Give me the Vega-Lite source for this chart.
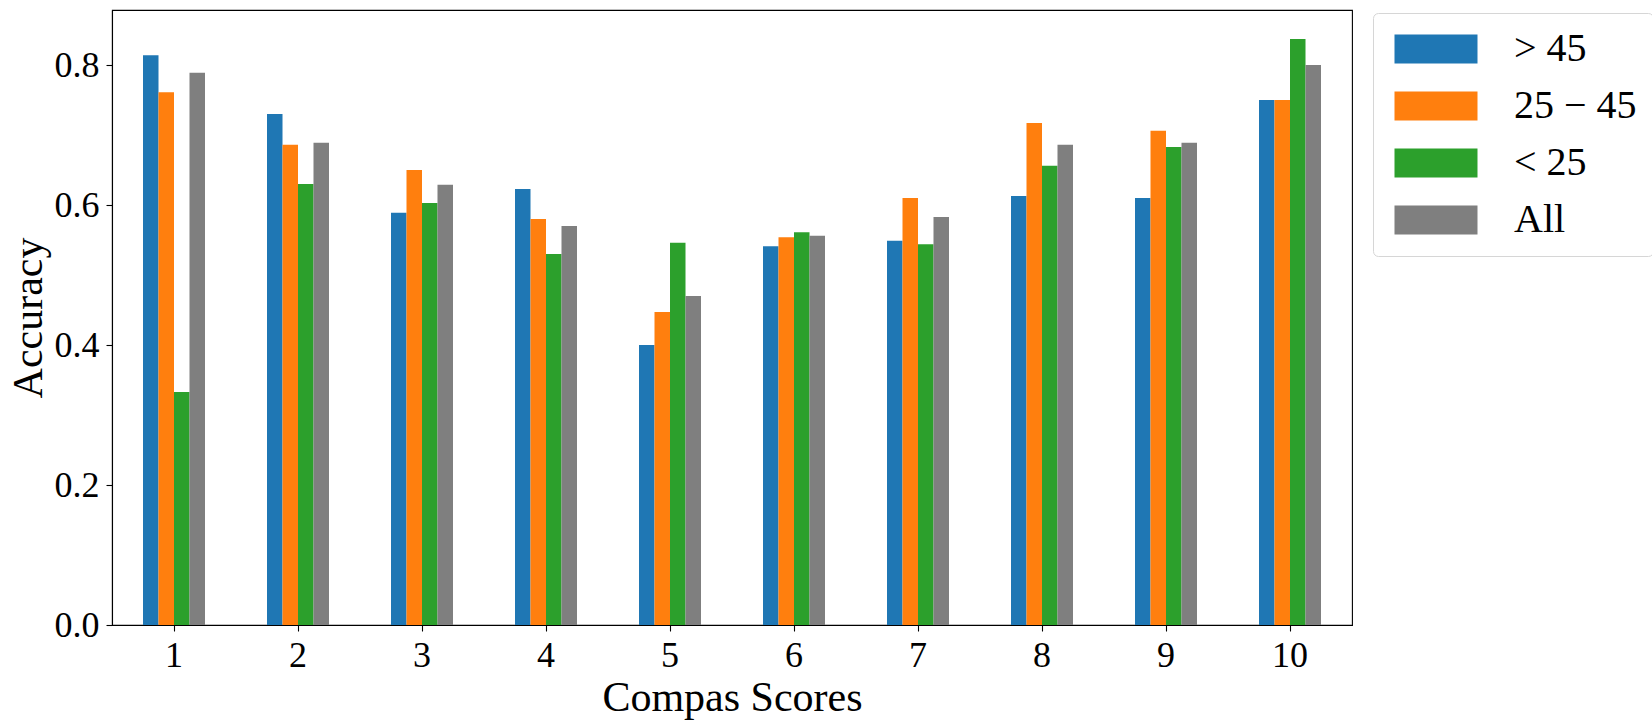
{
  "$schema": "https://vega.github.io/schema/vega-lite/v6.json",
  "width": 1240,
  "height": 615,
  "autosize": "none",
  "padding": {"left": 112, "top": 10, "right": 300, "bottom": 100},
  "background": "white",
  "data": {
    "values": [
      {"score": 1, "group": "> 45", "accuracy": 0.814},
      {"score": 1, "group": "25 − 45", "accuracy": 0.761},
      {"score": 1, "group": "< 25", "accuracy": 0.333},
      {"score": 1, "group": "All", "accuracy": 0.789},
      {"score": 2, "group": "> 45", "accuracy": 0.730},
      {"score": 2, "group": "25 − 45", "accuracy": 0.686},
      {"score": 2, "group": "< 25", "accuracy": 0.630},
      {"score": 2, "group": "All", "accuracy": 0.689},
      {"score": 3, "group": "> 45", "accuracy": 0.589},
      {"score": 3, "group": "25 − 45", "accuracy": 0.650},
      {"score": 3, "group": "< 25", "accuracy": 0.603},
      {"score": 3, "group": "All", "accuracy": 0.629},
      {"score": 4, "group": "> 45", "accuracy": 0.623},
      {"score": 4, "group": "25 − 45", "accuracy": 0.580},
      {"score": 4, "group": "< 25", "accuracy": 0.530},
      {"score": 4, "group": "All", "accuracy": 0.570},
      {"score": 5, "group": "> 45", "accuracy": 0.400},
      {"score": 5, "group": "25 − 45", "accuracy": 0.447},
      {"score": 5, "group": "< 25", "accuracy": 0.546},
      {"score": 5, "group": "All", "accuracy": 0.470},
      {"score": 6, "group": "> 45", "accuracy": 0.541},
      {"score": 6, "group": "25 − 45", "accuracy": 0.554},
      {"score": 6, "group": "< 25", "accuracy": 0.561},
      {"score": 6, "group": "All", "accuracy": 0.556},
      {"score": 7, "group": "> 45", "accuracy": 0.549},
      {"score": 7, "group": "25 − 45", "accuracy": 0.610},
      {"score": 7, "group": "< 25", "accuracy": 0.544},
      {"score": 7, "group": "All", "accuracy": 0.583},
      {"score": 8, "group": "> 45", "accuracy": 0.613},
      {"score": 8, "group": "25 − 45", "accuracy": 0.717},
      {"score": 8, "group": "< 25", "accuracy": 0.656},
      {"score": 8, "group": "All", "accuracy": 0.686},
      {"score": 9, "group": "> 45", "accuracy": 0.610},
      {"score": 9, "group": "25 − 45", "accuracy": 0.706},
      {"score": 9, "group": "< 25", "accuracy": 0.683},
      {"score": 9, "group": "All", "accuracy": 0.689},
      {"score": 10, "group": "> 45", "accuracy": 0.750},
      {"score": 10, "group": "25 − 45", "accuracy": 0.750},
      {"score": 10, "group": "< 25", "accuracy": 0.837},
      {"score": 10, "group": "All", "accuracy": 0.800}
    ]
  },
  "mark": {"type": "bar"},
  "encoding": {
    "x": {
      "field": "score",
      "type": "ordinal",
      "title": "Compas Scores",
      "scale": {"paddingInner": 0.5, "paddingOuter": 0.25},
      "axis": {"labelAngle": 0, "titlePadding": 4}
    },
    "xOffset": {
      "field": "group",
      "type": "nominal",
      "sort": ["> 45", "25 − 45", "< 25", "All"],
      "scale": {"paddingInner": 0, "paddingOuter": 0}
    },
    "y": {
      "field": "accuracy",
      "type": "quantitative",
      "title": "Accuracy",
      "scale": {"domain": [0, 0.8786], "nice": false},
      "axis": {"values": [0, 0.2, 0.4, 0.6, 0.8], "format": ".1f", "titlePadding": 4}
    },
    "color": {
      "field": "group",
      "type": "nominal",
      "scale": {
        "domain": ["> 45", "25 − 45", "< 25", "All"],
        "range": ["#1f77b4", "#ff7f0e", "#2ca02c", "#7f7f7f"]
      },
      "legend": {
        "title": null,
        "orient": "none",
        "legendX": 1261,
        "legendY": 3,
        "symbolType": "M-2.862,-1H2.862V1H-2.862Z",
        "symbolSize": 841,
        "symbolStrokeWidth": 0,
        "symbolOpacity": 1,
        "symbolOffset": 27,
        "labelOffset": 58,
        "rowPadding": 17,
        "padding": 16,
        "strokeColor": "#d6d6d6",
        "fillColor": "white",
        "cornerRadius": 5,
        "labelFont": "Liberation Serif",
        "labelFontSize": 40,
        "labelColor": "black",
        "labelLimit": 0
      }
    }
  },
  "config": {
    "view": {"stroke": "black", "strokeWidth": 1.1},
    "axis": {
      "grid": false,
      "domainColor": "black",
      "domainWidth": 1.1,
      "tickColor": "black",
      "tickWidth": 1.1,
      "tickSize": 6,
      "labelPadding": 7,
      "labelFont": "Liberation Serif",
      "labelFontSize": 36,
      "labelColor": "black",
      "titleFont": "Liberation Serif",
      "titleFontSize": 42,
      "titleFontWeight": "normal",
      "titleColor": "black"
    }
  }
}
